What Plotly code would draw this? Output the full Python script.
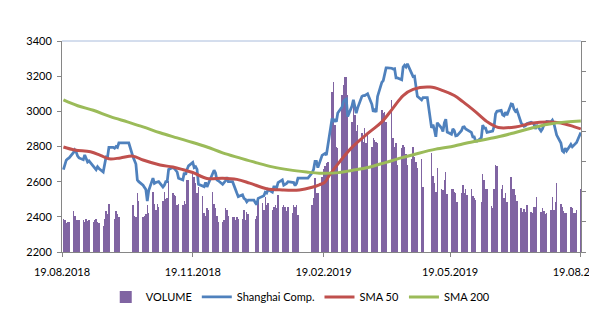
import pandas as pd
import plotly.graph_objects as go

# ---- months covered (weekdays; exchange holidays carry previous close, zero volume)
month_spans = [
    ("2018-08-20", "2018-08-31"), ("2018-09-01", "2018-09-30"), ("2018-10-01", "2018-10-31"),
    ("2018-11-01", "2018-11-30"), ("2018-12-01", "2018-12-31"), ("2019-01-01", "2019-01-31"),
    ("2019-02-01", "2019-02-28"), ("2019-03-01", "2019-03-31"), ("2019-04-01", "2019-04-30"),
    ("2019-05-01", "2019-05-31"), ("2019-06-01", "2019-06-30"), ("2019-07-01", "2019-07-31"),
    ("2019-08-01", "2019-08-19"),
]

# ---- Shanghai Composite close, per weekday
close_aug18 = [2668, 2700, 2722, 2730, 2735, 2765, 2780, 2768, 2745, 2735]
close_sep18 = [2725, 2752, 2728, 2712, 2718, 2685, 2675, 2668, 2685, 2675, 2655, 2690, 2740, 2738, 2795, 2795, 2790, 2800, 2795, 2820]
close_oct18 = [2820, 2820, 2820, 2820, 2820, 2740, 2720, 2700, 2610, 2600, 2580, 2570, 2555, 2490, 2550, 2620, 2590, 2595, 2600, 2600, 2570, 2580, 2600]
close_nov18 = [2600, 2670, 2680, 2675, 2665, 2655, 2620, 2610, 2650, 2640, 2670, 2690, 2710, 2680, 2685, 2670, 2585, 2575, 2572, 2595, 2570, 2590]
close_dec18 = [2655, 2665, 2650, 2610, 2605, 2585, 2595, 2605, 2625, 2600, 2600, 2575, 2550, 2535, 2515, 2525, 2505, 2500, 2485, 2495, 2495]
close_jan19 = [2495, 2480, 2470, 2505, 2520, 2520, 2540, 2535, 2555, 2540, 2570, 2570, 2565, 2595, 2610, 2580, 2585, 2590, 2600, 2595, 2595, 2578, 2590]
close_feb19 = [2620, 2620, 2620, 2620, 2620, 2620, 2650, 2670, 2715, 2715, 2680, 2750, 2755, 2760, 2752, 2805, 2960, 2940, 2955, 2940]
close_mar19 = [2990, 3025, 3055, 3065, 3070, 2970, 3030, 3065, 3030, 2990, 3020, 3085, 3090, 3090, 3095, 3100, 3040, 2997, 3015, 2995, 3085]
close_apr19 = [3165, 3175, 3215, 3247, 3247, 3245, 3240, 3242, 3190, 3190, 3180, 3252, 3262, 3252, 3270, 3215, 3198, 3200, 3125, 3085, 3065, 3078]
close_may19 = [3078, 3078, 3078, 2906, 2925, 2895, 2855, 2935, 2905, 2885, 2935, 2955, 2882, 2870, 2900, 2890, 2860, 2862, 2890, 2910, 2912, 2900, 2895]
close_jun19 = [2880, 2855, 2855, 2830, 2830, 2850, 2922, 2905, 2905, 2880, 2885, 2888, 2915, 2985, 3000, 3005, 2980, 2975, 2995, 2978]
close_jul19 = [3042, 3040, 3012, 3000, 3008, 2935, 2925, 2915, 2918, 2930, 2938, 2935, 2930, 2900, 2922, 2888, 2900, 2922, 2935, 2942, 2940, 2950, 2932]
close_aug19 = [2905, 2865, 2820, 2775, 2768, 2790, 2775, 2812, 2798, 2808, 2815, 2823, 2880]

# ---- volume (secondary axis units), per weekday
vol_aug18 = [11, 10.5, 9.5, 10, 9.8, 13.5, 12, 10.5, 10.5, 10.5]
vol_sep18 = [10.5, 10, 11, 10.2, 10.5, 10, 10.5, 11, 10, 9.5, 8.5, 11, 13.5, 12.5, 16, 0, 11, 13.5, 12.5, 11.5]
vol_oct18 = [0, 0, 0, 0, 0, 15.5, 12, 11.5, 19.5, 17, 11.5, 12, 12.5, 15.5, 13, 20, 16, 14, 16, 15, 17, 20, 17.5]
vol_nov18 = [18, 23.5, 19.5, 19, 18.5, 15.5, 16, 15.5, 17, 16, 24, 24, 26, 25, 23, 19.5, 21.5, 18.5, 13, 12, 14.5, 13.8]
vol_dec18 = [20, 16, 14.5, 12, 10, 9.8, 10.5, 14.5, 14, 12, 11.5, 11.5, 10.5, 11.5, 11, 11, 13.8, 10.6, 13.3, 12.5, 0]
vol_jan19 = [0, 11, 12, 17.8, 16.2, 14, 18.4, 15.6, 16.2, 14, 15, 15.6, 14.5, 19, 15, 15.6, 15, 13.5, 15, 12.8, 15.6, 15, 15.6]
vol_feb19 = [12.3, 0, 0, 0, 0, 0, 15.6, 18, 24.6, 19.5, 19.5, 25, 27.5, 28.5, 29.5, 30, 53, 56.5, 42, 35]
vol_mar19 = [34.5, 52, 55.5, 58, 58, 52, 43, 50.5, 45.5, 40, 42, 39.5, 36.5, 41, 36, 38.9, 35, 37.8, 37, 36.5, 36]
vol_apr19 = [47, 46, 46.5, 43, 0, 50.5, 37.8, 35, 36, 29, 34.4, 35.5, 35, 32.4, 29, 30.8, 35, 31.6, 30, 28, 30.8, 21.6]
vol_may19 = [0, 0, 0, 33, 25.2, 23, 20, 28, 21, 20.6, 23.8, 26.6, 19.2, 20.8, 20.8, 20, 19.5, 16.7, 19.5, 22.3, 19.5, 21, 18.9]
vol_jun19 = [21, 18.6, 17.8, 17.3, 0, 16.7, 25.8, 23.9, 21, 21, 15.2, 14.5, 21, 28.8, 28.5, 21, 22.3, 17.8, 19.5, 16.7]
vol_jul19 = [24.8, 21, 21, 18.9, 17, 14.5, 13.4, 14.2, 13.4, 15.6, 13.4, 12.8, 15, 15, 18.1, 13.4, 14.5, 13.7, 12.6, 13, 14.1, 18.1, 13.9]
vol_aug19 = [16.7, 22.8, 15.9, 14.8, 13.7, 12.8, 12.8, 15, 14.5, 12.8, 13, 14, 21]

# ---- moving averages (read at sample dates)
sma50_dates = ["2018-08-20", "2018-08-28", "2018-09-08", "2018-09-15", "2018-09-21", "2018-09-29",
               "2018-10-08", "2018-10-15", "2018-10-27", "2018-11-05", "2018-11-13", "2018-11-19",
               "2018-11-29", "2018-12-10", "2018-12-20", "2018-12-29", "2019-01-10", "2019-01-21",
               "2019-02-02", "2019-02-11", "2019-02-16", "2019-02-20", "2019-02-23", "2019-03-02",
               "2019-03-11", "2019-03-23", "2019-04-01", "2019-04-09", "2019-04-16", "2019-04-23",
               "2019-05-05", "2019-05-14", "2019-05-22", "2019-05-28", "2019-06-06", "2019-06-15",
               "2019-06-22", "2019-07-04", "2019-07-15", "2019-07-27", "2019-08-05", "2019-08-14",
               "2019-08-19"]
sma50_vals = [2797, 2780, 2770, 2750, 2730, 2735, 2745, 2723, 2695, 2683, 2666, 2652,
              2618, 2620, 2613, 2592, 2560, 2553, 2553, 2568, 2582, 2598, 2635, 2710,
              2795, 2880, 2940, 3020, 3090, 3125, 3138, 3118, 3090, 3055, 2997, 2936,
              2908, 2911, 2932, 2940, 2934, 2913, 2900]

sma200_dates = ["2018-08-20", "2018-08-30", "2018-09-10", "2018-09-22", "2018-10-04", "2018-10-15",
                "2018-10-27", "2018-11-08", "2018-11-19", "2018-11-29", "2018-12-10", "2018-12-22",
                "2019-01-03", "2019-01-14", "2019-01-26", "2019-02-07", "2019-02-16", "2019-02-28",
                "2019-03-11", "2019-03-23", "2019-04-04", "2019-04-16", "2019-04-27", "2019-05-09",
                "2019-05-22", "2019-05-30", "2019-06-10", "2019-06-22", "2019-07-04", "2019-07-15",
                "2019-07-27", "2019-08-09", "2019-08-19"]
sma200_vals = [3065, 3032, 3006, 2970, 2940, 2912, 2878, 2849, 2823, 2797, 2764, 2735,
               2707, 2684, 2667, 2655, 2648, 2650, 2664, 2682, 2710, 2738, 2762, 2785,
               2803, 2818, 2836, 2855, 2880, 2904, 2926, 2940, 2945]

tick_dates = ["2018-08-19", "2018-11-19", "2019-02-19", "2019-05-19", "2019-08-19"]

close_months = [close_aug18, close_sep18, close_oct18, close_nov18, close_dec18, close_jan19,
                close_feb19, close_mar19, close_apr19, close_may19, close_jun19, close_jul19, close_aug19]
vol_months = [vol_aug18, vol_sep18, vol_oct18, vol_nov18, vol_dec18, vol_jan19,
              vol_feb19, vol_mar19, vol_apr19, vol_may19, vol_jun19, vol_jul19, vol_aug19]

dates, close, volume = [], [], []
for (a, b), c, v in zip(month_spans, close_months, vol_months):
    d = list(pd.bdate_range(a, b))
    assert len(d) == len(c) == len(v), (a, len(d), len(c), len(v))
    dates += d
    close += c
    volume += v

AX = "#868686"
FONT = dict(family="Lato, 'Open Sans', sans-serif", size=11, color="#000000")

fig = go.Figure()
fig.add_trace(go.Bar(x=dates, y=volume, name="VOLUME", marker=dict(color="#8064A2", line=dict(width=0)),
                     width=0.3 * 86400000, yaxis="y"))
fig.add_trace(go.Scatter(x=dates, y=close, name="Shanghai Comp.", mode="lines",
                         line=dict(color="#4F81BD", width=2.75), yaxis="y2"))
fig.add_trace(go.Scatter(x=sma50_dates, y=sma50_vals, name="SMA 50", mode="lines",
                         line=dict(color="#C0504D", width=3, shape="spline"), yaxis="y2"))
fig.add_trace(go.Scatter(x=sma200_dates, y=sma200_vals, name="SMA 200", mode="lines",
                         line=dict(color="#9BBB59", width=3, shape="spline"), yaxis="y2"))

# page body has an 8px margin: figure is sized/placed so the plot lands where the reference has it
fig.update_layout(
    width=589, height=304,
    margin=dict(l=54, r=16, t=33, b=60, autoexpand=False),
    paper_bgcolor="white", plot_bgcolor="white",
    font=FONT,
    bargap=0,
    xaxis=dict(type="date", range=["2018-08-19", "2019-08-19 03:00"], tickvals=tick_dates,
               tickformat="%d.%m.%Y", ticks="outside", ticklen=4, tickcolor=AX,
               showline=True, linecolor=AX, linewidth=1, showgrid=False, zeroline=False,
               ticklabelstandoff=6, ticklabeloverflow="allow", automargin=False),
    yaxis=dict(side="right", range=[0, 70], dtick=10, showticklabels=False, ticks="outside",
               ticklen=4, tickcolor=AX, showline=True, linecolor=AX, showgrid=False, zeroline=False),
    yaxis2=dict(overlaying="y", side="left", range=[2200, 3400], dtick=200, ticks="outside",
                ticklen=4, tickcolor=AX, showline=True, linecolor=AX, showgrid=False, zeroline=False,
                ticklabelstandoff=3, automargin=False),
    legend=dict(orientation="h", x=0.46, y=-0.213,
                xanchor="center", yanchor="middle", font=FONT, itemwidth=30,
                bgcolor="rgba(0,0,0,0)"),
    showlegend=True,
    shapes=[dict(type="line", xref="paper", yref="paper", x0=0, x1=1, y0=1, y1=1,
                 line=dict(color="#A9BCDC", width=1))],
)

fig.write_html("out.html")
